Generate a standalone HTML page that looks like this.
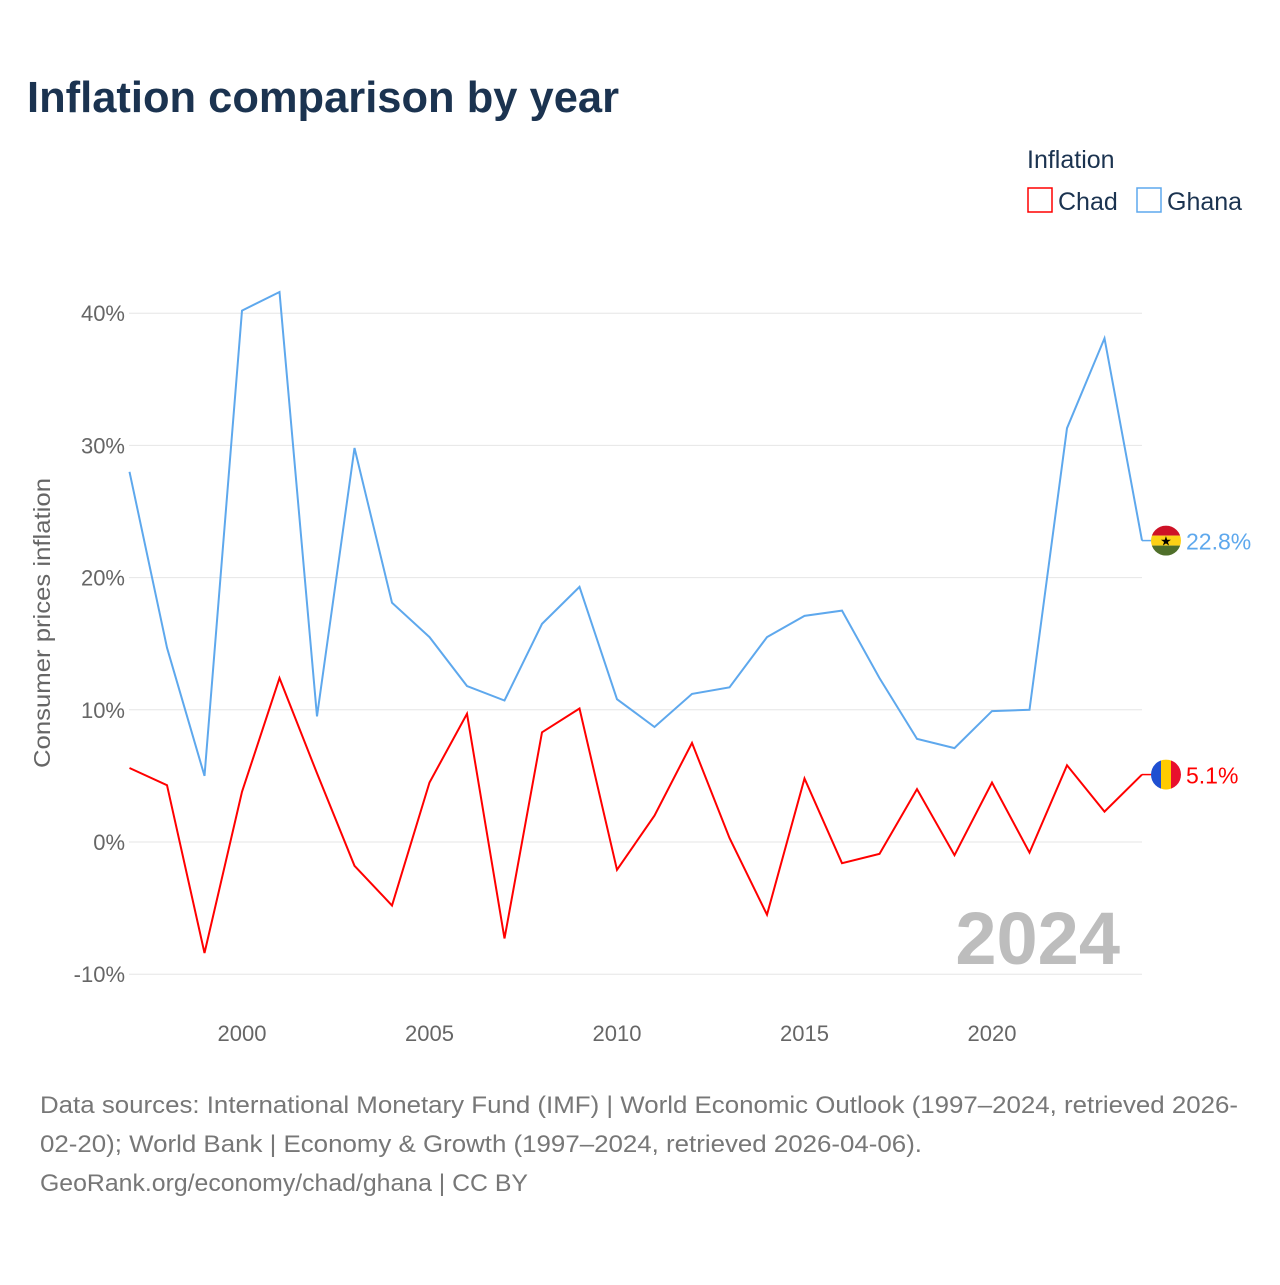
<!DOCTYPE html>
<html><head><meta charset="utf-8"><style>
body{margin:0;background:#fff;font-family:"Liberation Sans",sans-serif}
</style></head><body>
<svg width="1280" height="1280" xmlns="http://www.w3.org/2000/svg">
<text x="27" y="112" font-size="44" font-weight="bold" fill="#1b3350" textLength="592" lengthAdjust="spacingAndGlyphs">Inflation comparison by year</text>
<g>
<text x="1027" y="168" font-size="25" fill="#1b3350">Inflation</text>
<g><rect x="1028" y="188" width="24" height="24" fill="none" stroke="#ff0000" stroke-width="1.5"/><text x="1058" y="210" font-size="25" fill="#1b3350">Chad</text></g>
<g><rect x="1137" y="188" width="24" height="24" fill="none" stroke="#5ea8ed" stroke-width="1.5"/><text x="1167" y="210" font-size="25" fill="#1b3350">Ghana</text></g>
</g>
<g id="grid"></g>
<g id="yt"></g>
<g id="xt"></g>
<text transform="translate(50,623) rotate(-90)" text-anchor="middle" font-size="23" fill="#666" textLength="290" lengthAdjust="spacingAndGlyphs">Consumer prices inflation</text>
<text x="1120" y="964" text-anchor="end" font-size="74" font-weight="bold" fill="#bdbdbd">2024</text>
<g id="series"></g>
<text x="40" y="1113" font-size="24" fill="#777" textLength="1198" lengthAdjust="spacingAndGlyphs">Data sources: International Monetary Fund (IMF) | World Economic Outlook (1997–2024, retrieved 2026-</text>
<text x="40" y="1152" font-size="24" fill="#777" textLength="882" lengthAdjust="spacingAndGlyphs">02-20); World Bank | Economy &amp; Growth (1997–2024, retrieved 2026-04-06).</text>
<text x="40" y="1191" font-size="24" fill="#777" textLength="488" lengthAdjust="spacingAndGlyphs">GeoRank.org/economy/chad/ghana | CC BY</text>
</svg>
<script>
const years=[1997,1998,1999,2000,2001,2002,2003,2004,2005,2006,2007,2008,2009,2010,2011,2012,2013,2014,2015,2016,2017,2018,2019,2020,2021,2022,2023,2024];
const ghana=[28.0,14.7,5.0,40.2,41.6,9.5,29.8,18.1,15.5,11.8,10.7,16.5,19.3,10.8,8.7,11.2,11.7,15.5,17.1,17.5,12.4,7.8,7.1,9.9,10.0,31.3,38.1,22.8];
const chad=[5.6,4.3,-8.4,3.8,12.4,5.2,-1.8,-4.8,4.5,9.7,-7.3,8.3,10.1,-2.1,2.0,7.5,0.3,-5.5,4.8,-1.6,-0.9,4.0,-1.0,4.5,-0.8,5.8,2.3,5.1];
const yTicks=[-10,0,10,20,30,40];
const xTicks=[2000,2005,2010,2015,2020];
const NS="http://www.w3.org/2000/svg";
const X=y=>129.5+(y-1997)*(1142-129.5)/27;
const Y=v=>842-v*13.22;
function mk(t,a,p){const e=document.createElementNS(NS,t);for(const k in a)e.setAttribute(k,a[k]);p.appendChild(e);return e;}
const grid=document.getElementById('grid'),yt=document.getElementById('yt'),xt=document.getElementById('xt'),se=document.getElementById('series');
yTicks.forEach(v=>{
const l=mk('line',{x1:129,x2:1142,y1:Y(v),y2:Y(v),stroke:'#e6e6e6','stroke-width':1},grid);


const t=mk('text',{x:125,y:Y(v)+8,'text-anchor':'end','font-size':22,fill:'#666'},yt);
t.textContent=v+'%';


});
xTicks.forEach(v=>{
const t=mk('text',{x:X(v),y:1041,'text-anchor':'middle','font-size':22,fill:'#666'},xt);
t.textContent=v;


});
function line(vals,col,name){
const d=vals.map((v,i)=>(i?'L':'M')+X(years[i]).toFixed(1)+','+Y(v).toFixed(1)).join('');
const p=mk('path',{d:d,fill:'none',stroke:col,'stroke-width':2},se);


const last=vals[vals.length-1],ly=Y(last);
const c=mk('line',{x1:1142,x2:1152,y1:ly,y2:ly,stroke:col,'stroke-width':1.5},se);


const t=mk('text',{x:1186,y:ly+9,'font-size':23,fill:col},se);
t.textContent=last.toFixed(1)+'%';


return ly;
}
const gy=line(ghana,'#5ea8ed','ghana');
const cy=line(chad,'#ff0000','chad');
const defs=mk('defs',{},se);
const cg=mk('clipPath',{id:'cg'},defs);mk('circle',{cx:1166,cy:gy,r:15},cg);
const cc=mk('clipPath',{id:'cc'},defs);mk('circle',{cx:1166,cy:cy,r:15},cc);
const gf=mk('g',{'clip-path':'url(#cg)'},se);


mk('rect',{x:1151,y:gy-15,width:30,height:10,fill:'#ce1126'},gf);
mk('rect',{x:1151,y:gy-5,width:30,height:10,fill:'#fcd116'},gf);
mk('rect',{x:1151,y:gy+5,width:30,height:10,fill:'#4f6f2a'},gf);
const st=mk('text',{x:1166,y:gy+5,'text-anchor':'middle','font-size':13,fill:'#000'},gf);st.textContent='★';
const cf=mk('g',{'clip-path':'url(#cc)'},se);


mk('rect',{x:1151,y:cy-15,width:10,height:30,fill:'#1f4fd1'},cf);
mk('rect',{x:1161,y:cy-15,width:10,height:30,fill:'#fecb00'},cf);
mk('rect',{x:1171,y:cy-15,width:10,height:30,fill:'#e8112d'},cf);
</script>
</body></html>
